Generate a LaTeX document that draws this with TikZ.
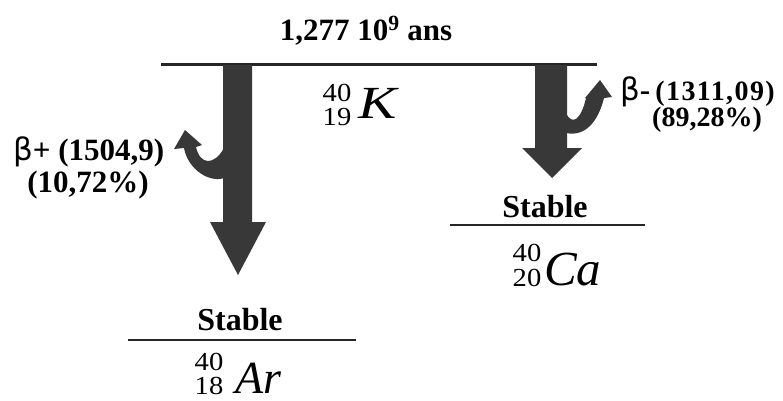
\documentclass[tikz,border=0pt]{standalone}
\usepackage{fontspec}
\setmainfont{Liberation Serif}
\newfontfamily\symb{DejaVu Sans}
\begin{document}
\begin{tikzpicture}[x=1pt,y=-1pt,
  lbl/.style={font=\fontsize{31}{33}\selectfont\bfseries, inner sep=0pt},
  num/.style={font=\fontsize{26}{26}\selectfont\addfontfeature{FakeStretch=1.1}, inner sep=0pt, anchor=base},
  elem/.style={font=\fontsize{46}{48}\selectfont\itshape, inner sep=0pt, anchor=base west},
  arrowfill/.style={fill=black!78, draw=none},
  level/.style={line width=3pt, draw=black!85},
  sublevel/.style={line width=2pt, draw=black!85}]
\useasboundingbox (0,0) rectangle (783,400);
% top level
\coordinate (kL) at (161,64);
\coordinate (kR) at (597,64);
\draw[level] (kL) -- (kR);
\node[lbl, anchor=base] (title) at (366,40) {1,277 10\textsuperscript{9} ans};
% K
\node[num] (kA) at (337,101) {40};
\node[num] (kZ) at (337,125) {19};
\node[elem, font=\fontsize{46}{48}\selectfont\itshape\addfontfeature{FakeStretch=1.25}] (kS) at (358,118) {K};
% left arrow (beta+)
\fill[arrowfill] (223,65) -- (252,65) -- (252,222) -- (266,222) -- (238,275) -- (210,222) -- (223,222) -- cycle;
\fill[arrowfill] (224,178) .. controls (210,183) and (188,170) .. (184,148)
   -- (174,149) -- (185,130) -- (202,145) -- (196,147)
   .. controls (200,165) and (214,166) .. (224,148) -- cycle;
% right arrow (beta-)
\fill[arrowfill] (535,65) -- (567,65) -- (567,148) -- (582,148) -- (552,178) -- (522,148) -- (535,148) -- cycle;
\fill[arrowfill] (566,113) .. controls (572,126) and (581,120) .. (586,98)
   -- (585,98) -- (600,80) -- (612,97) -- (604,98)
   .. controls (598,122) and (585,137) .. (566,133) -- cycle;
% labels
\node[lbl, anchor=base west] (bp) at (13,160) {{\mdseries\symb β}+ (1504,9)};
\node[lbl, anchor=base] (bpp) at (88,192) {(10,72\%)};
\node[lbl, anchor=base west] (bm) at (620,100) {{\mdseries\symb β}-\,{\fontsize{28}{30}\selectfont\addfontfeature{LetterSpace=5}(1311,09)}};
\node[lbl, anchor=base, font=\fontsize{28}{30}\selectfont\bfseries] (bmp) at (707,126) {(89,28\%)};
% Ca level
\coordinate (caL) at (450,225);
\coordinate (caR) at (645,225);
\draw[sublevel] (caL) -- (caR);
\node[lbl, anchor=base, font=\fontsize{32}{34}\selectfont\bfseries] (caStable) at (545,217) {Stable};
\node[num] (caA) at (527,261) {40};
\node[num] (caZ) at (527,286) {20};
\node[elem, font=\fontsize{49}{51}\selectfont\itshape] (caS) at (544,285) {Ca};
% Ar level
\coordinate (arL) at (128,340);
\coordinate (arR) at (356,340);
\draw[sublevel] (arL) -- (arR);
\node[lbl, anchor=base, font=\fontsize{32}{34}\selectfont\bfseries] (arStable) at (240,330) {Stable};
\node[num] (arA) at (209,370) {40};
\node[num] (arZ) at (209,394) {18};
\node[elem] (arS) at (235,393) {Ar};
\end{tikzpicture}
\end{document}
